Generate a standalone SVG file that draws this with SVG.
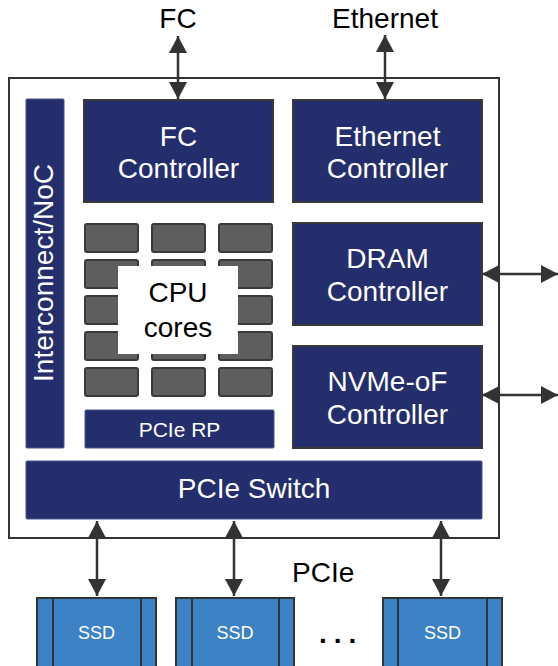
<svg xmlns="http://www.w3.org/2000/svg" width="558" height="666" viewBox="0 0 558 666">
<style>
text{font-family:"Liberation Sans",Arial,sans-serif}
.navy{fill:#242e6c;stroke:#3a3a3a;stroke-width:2}
.navy2{fill:#242e6c;stroke:#4a5590;stroke-width:1}
.wt{fill:#ffffff;font-size:28px;text-anchor:middle}
.bt{fill:#000000;font-size:28px}
.tile{fill:#5e5e5e;stroke:#3a3a3a;stroke-width:2}
.ssd{fill:#3c82c4;stroke:#333333;stroke-width:2}
.ssdl{stroke:#333333;stroke-width:2}
.conn{stroke:#333333;stroke-width:2.5;fill:none;marker-start:url(#ah);marker-end:url(#ah)}
</style>
<defs>
<marker id="ah" viewBox="0 0 17 18" refX="17" refY="9" markerWidth="17" markerHeight="18" markerUnits="userSpaceOnUse" orient="auto-start-reverse">
<path d="M0,0 L17,9 L0,18 Z" fill="#333333"/>
</marker>
</defs>
<rect id="soc" x="9" y="78" width="490" height="460" fill="#ffffff" stroke="#333333" stroke-width="2"/>
<g id="interconnect">
<rect class="navy2" x="26" y="99" width="38" height="349" rx="1"/>
<text class="wt" transform="translate(53,273) rotate(-90)">Interconnect/NoC</text>
</g>
<g id="fc-controller">
<rect class="navy" x="84" y="100" width="189" height="102"/>
<text class="wt" x="178.5" y="146">FC</text>
<text class="wt" x="178.5" y="178">Controller</text>
</g>
<g id="ethernet-controller">
<rect class="navy" x="293" y="100" width="189" height="102"/>
<text class="wt" x="387.5" y="146">Ethernet</text>
<text class="wt" x="387.5" y="178">Controller</text>
</g>
<g id="dram-controller">
<rect class="navy" x="293" y="223" width="189" height="102"/>
<text class="wt" x="387.5" y="268">DRAM</text>
<text class="wt" x="387.5" y="301">Controller</text>
</g>
<g id="nvmeof-controller">
<rect class="navy" x="293" y="346" width="189" height="102"/>
<text class="wt" x="387.5" y="391">NVMe-oF</text>
<text class="wt" x="387.5" y="424">Controller</text>
</g>
<g id="cpu-cores">
<rect class="tile" x="85" y="224" width="53" height="28" rx="2"/>
<rect class="tile" x="152" y="224" width="53" height="28" rx="2"/>
<rect class="tile" x="219" y="224" width="53" height="28" rx="2"/>
<rect class="tile" x="85" y="260" width="53" height="28" rx="2"/>
<rect class="tile" x="152" y="260" width="53" height="28" rx="2"/>
<rect class="tile" x="219" y="260" width="53" height="28" rx="2"/>
<rect class="tile" x="85" y="296" width="53" height="28" rx="2"/>
<rect class="tile" x="152" y="296" width="53" height="28" rx="2"/>
<rect class="tile" x="219" y="296" width="53" height="28" rx="2"/>
<rect class="tile" x="85" y="332" width="53" height="28" rx="2"/>
<rect class="tile" x="152" y="332" width="53" height="28" rx="2"/>
<rect class="tile" x="219" y="332" width="53" height="28" rx="2"/>
<rect class="tile" x="85" y="368" width="53" height="28" rx="2"/>
<rect class="tile" x="152" y="368" width="53" height="28" rx="2"/>
<rect class="tile" x="219" y="368" width="53" height="28" rx="2"/>
<rect x="118" y="266" width="120" height="88" fill="#ffffff"/>
<text class="bt" x="178" y="302" text-anchor="middle">CPU</text>
<text class="bt" x="178" y="337" text-anchor="middle">cores</text>
</g>
<g id="pcie-rp">
<rect class="navy2" x="85" y="410" width="189" height="38" rx="1"/>
<text x="179.5" y="437" fill="#ffffff" font-size="21" text-anchor="middle">PCIe RP</text>
</g>
<g id="pcie-switch">
<rect class="navy2" x="26" y="461" width="456" height="58" rx="1"/>
<text class="wt" x="254" y="498">PCIe Switch</text>
</g>
<g id="ssd1">
<rect class="ssd" x="37" y="598" width="119" height="72"/>
<line class="ssdl" x1="53" y1="598" x2="53" y2="670"/>
<line class="ssdl" x1="141" y1="598" x2="141" y2="670"/>
<text x="96.5" y="639" fill="#ffffff" font-size="18" text-anchor="middle">SSD</text>
</g>
<g id="ssd2">
<rect class="ssd" x="176" y="598" width="118" height="72"/>
<line class="ssdl" x1="192" y1="598" x2="192" y2="670"/>
<line class="ssdl" x1="279" y1="598" x2="279" y2="670"/>
<text x="235" y="639" fill="#ffffff" font-size="18" text-anchor="middle">SSD</text>
</g>
<g id="ssd3">
<rect class="ssd" x="383" y="598" width="119" height="72"/>
<line class="ssdl" x1="398" y1="598" x2="398" y2="670"/>
<line class="ssdl" x1="487" y1="598" x2="487" y2="670"/>
<text x="442.5" y="639" fill="#ffffff" font-size="18" text-anchor="middle">SSD</text>
</g>
<g id="labels">
<text class="bt" x="178" y="28" text-anchor="middle">FC</text>
<text class="bt" x="385" y="28" text-anchor="middle">Ethernet</text>
<text class="bt" x="292" y="582">PCIe</text>
<text x="319" y="643" font-size="28" font-weight="bold" letter-spacing="7" fill="#000000">...</text>
</g>
<g id="connectors">
<line class="conn" x1="178" y1="36" x2="178" y2="99"/>
<line class="conn" x1="385" y1="35" x2="385" y2="99"/>
<line class="conn" x1="482" y1="274" x2="558" y2="274"/>
<line class="conn" x1="482" y1="395" x2="558" y2="395"/>
<line class="conn" x1="97" y1="521" x2="97" y2="596"/>
<line class="conn" x1="234" y1="521" x2="234" y2="596"/>
<line class="conn" x1="441" y1="521" x2="441" y2="596"/>
</g>
</svg>
